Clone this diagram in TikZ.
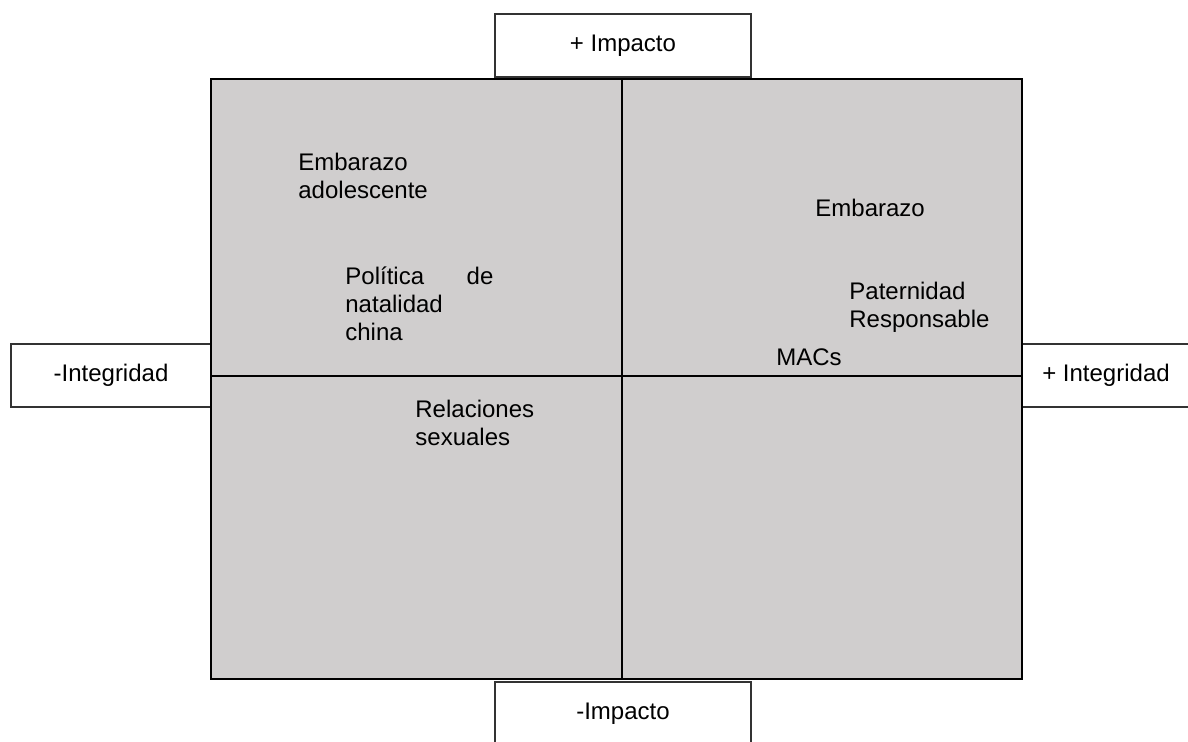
\documentclass[tikz,border=0pt]{standalone}
\usepackage{fontspec}
\setmainfont{Liberation Sans}
\definecolor{cuadro}{RGB}{208,206,206}

\begin{document}
\begin{tikzpicture}[x=0.5pt,y=-0.5pt,
        eje/.style={draw=black!80,line width=0.6pt,fill=white,inner sep=0pt,font=\fontsize{12}{14}\selectfont},
        tema/.style={anchor=base west,align=left,inner sep=0pt,font=\fontsize{12}{14}\selectfont}]
        \useasboundingbox (0,0) rectangle (1188,741);

        % ejes
        \node [eje,minimum width=128pt,minimum height=31.5pt] (mas_impacto) at (623,45.5) {+ Impacto};
        \node [eje,minimum width=128pt,minimum height=31.5pt] (menos_impacto) at (623,713.5) {-Impacto};
        \node [eje,minimum width=100pt,minimum height=31.5pt] (menos_integ) at (111,375.5) {-Integridad};
        \node [eje,minimum width=84pt,minimum height=31.5pt] (mas_integ) at (1106,375.5) {+ Integridad};

        % cuadrantes
        \coordinate (nw) at (211,79);
        \coordinate (se) at (1022,679);
        \coordinate (arriba) at (622,79);
        \coordinate (abajo) at (622,679);
        \coordinate (izq) at (211,376);
        \coordinate (der) at (1022,376);
        \draw [line width=1pt,fill=cuadro] (nw) rectangle (se);
        \draw [line width=1pt] (arriba) -- (abajo);
        \draw [line width=1pt] (izq) -- (der);

        % temas (base = ultima linea)
        \node [tema] (emb_adol) at (298,198) {Embarazo\\adolescente};
        \node [tema] (politica) at (345,340) {\makebox[74pt][s]{Política de}\\natalidad\\china};
        \node [tema] (relaciones) at (415,445) {Relaciones\\sexuales};
        \node [tema] (embarazo) at (815,216) {Embarazo};
        \node [tema] (paternidad) at (849,327) {Paternidad\\Responsable};
        \node [tema] (macs) at (776,365) {MACs};

    \end{tikzpicture}
\end{document}
